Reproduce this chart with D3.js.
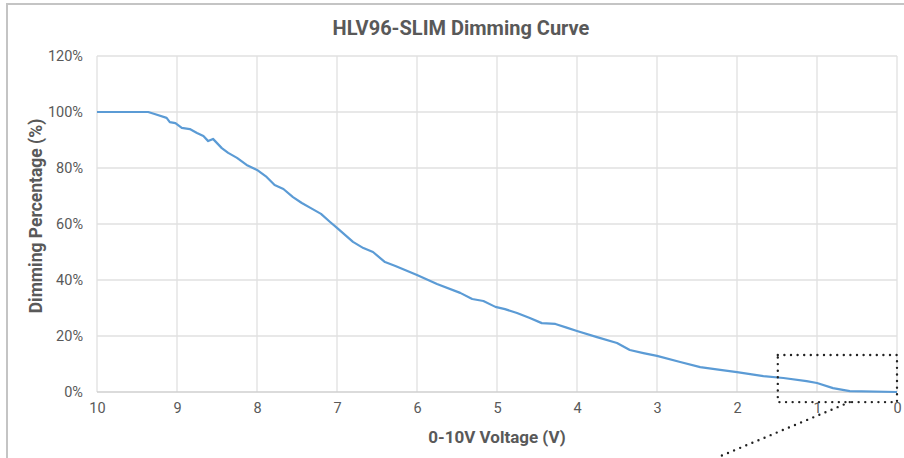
<!DOCTYPE html>
<html>
<head>
<meta charset="utf-8">
<script src="https://cdn.jsdelivr.net/npm/d3@7"></script>
<style>
  body { margin: 0; background: #fff; }
  text { font-family: Roboto, "Open Sans", sans-serif; }
</style>
</head>
<body>
<div id="chart"></div>
<script>
var svgWidth = 904;
var svgHeight = 458;

var margin = { top: 56, right: 7, bottom: 66, left: 97 };
var width = svgWidth - margin.left - margin.right;
var height = svgHeight - margin.top - margin.bottom;

// curve: control voltage (V) vs dimming (%)
var voltage = [10, 9.36, 9.28, 9.13, 9.09, 9.02, 8.94, 8.84, 8.75, 8.67, 8.61, 8.55, 8.44, 8.36, 8.25, 8.13, 8.0,
  7.88, 7.78, 7.67, 7.55, 7.44, 7.31, 7.2, 7.09, 7.0, 6.8, 6.67, 6.55, 6.4, 6.27, 6.0, 5.75, 5.46, 5.31, 5.17,
  5.02, 4.9, 4.75, 4.59, 4.44, 4.27, 4.12, 4.0, 3.75, 3.5, 3.34, 3.17, 3.0, 2.71, 2.46, 2.21, 2.0, 1.67, 1.42,
  1.13, 1.0, 0.8, 0.59, 0];
var percent = [100, 100, 99.3, 97.9, 96.4, 96, 94.3, 93.9, 92.5, 91.4, 89.6, 90.4, 87.1, 85.4, 83.6, 81.1, 79.3,
  76.8, 73.9, 72.5, 69.6, 67.5, 65.4, 63.6, 60.8, 58.6, 53.6, 51.4, 50, 46.4, 45, 41.8, 38.6, 35.4, 33.2, 32.5,
  30.4, 29.6, 28.2, 26.4, 24.6, 24.3, 22.9, 21.8, 19.6, 17.5, 15, 13.9, 12.9, 10.7, 8.9, 7.9, 7.1, 5.7, 5,
  3.9, 3.2, 1.4, 0.3, 0];
var xTicks = [10, 9, 8, 7, 6, 5, 4, 3, 2, 1, 0];
var yTicks = [0, 20, 40, 60, 80, 100, 120];

var svg = d3.select("#chart")
  .append("svg")
  .attr("width", svgWidth)
  .attr("height", svgHeight);

// outer frame (only top and left edges show in the crop)
svg.append("path")
  .attr("d", `M7,${svgHeight} V4 H${svgWidth}`)
  .attr("fill", "none")
  .attr("stroke", "#c4c4c4")
  .attr("stroke-width", 2);

var chartGroup = svg.append("g")
  .attr("transform", `translate(${margin.left}, ${margin.top})`);

var x = d3.scaleLinear().domain([10, 0]).range([0, width]);
var y = d3.scaleLinear().domain([0, 120]).range([height, 0]);

// gridlines
chartGroup.append("g")
  .selectAll("line")
  .data(xTicks)
  .enter()
  .append("line")
  .attr("x1", d => x(d)).attr("x2", d => x(d))
  .attr("y1", 0).attr("y2", height)
  .attr("stroke", "#e0e0e0")
  .attr("stroke-width", 1.3);

chartGroup.append("g")
  .selectAll("line")
  .data(yTicks)
  .enter()
  .append("line")
  .attr("x1", 0).attr("x2", width)
  .attr("y1", d => y(d)).attr("y2", d => y(d))
  .attr("stroke", d => d === 0 ? "#cfcfcf" : "#e0e0e0")
  .attr("stroke-width", 1.3);

// axes, labels only
var xAxis = d3.axisBottom(x).tickValues(xTicks).tickSize(0).tickPadding(11).tickFormat(d3.format("d"));
var yAxis = d3.axisLeft(y).tickValues(yTicks).tickSize(0).tickPadding(14).tickFormat(d => d + "%");

chartGroup.append("g")
  .attr("transform", `translate(0, ${height})`)
  .call(xAxis)
  .call(g => g.select(".domain").remove())
  .selectAll("text")
  .attr("fill", "#595959")
  .style("font-size", "14.5px");

chartGroup.append("g")
  .call(yAxis)
  .call(g => g.select(".domain").remove())
  .selectAll("text")
  .attr("fill", "#595959")
  .style("font-size", "14.5px");

// the curve
var points = voltage.map((v, i) => [v, percent[i]]);
var line = d3.line()
  .x(d => x(d[0]))
  .y(d => y(d[1]));

chartGroup.append("path")
  .datum(points)
  .attr("d", line)
  .attr("fill", "none")
  .attr("stroke", "#5b9bd5")
  .attr("stroke-width", 2.2)
  .attr("stroke-linejoin", "round");

// titles
svg.append("text")
  .attr("x", 461)
  .attr("y", 35)
  .attr("text-anchor", "middle")
  .attr("fill", "#595959")
  .style("font-size", "20px")
  .style("font-weight", "bold")
  .text("HLV96-SLIM Dimming Curve");

chartGroup.append("text")
  .attr("transform", "rotate(-90)")
  .attr("x", -height / 2 + 8)
  .attr("y", -55)
  .attr("text-anchor", "middle")
  .attr("fill", "#595959")
  .style("font-size", "17.5px")
  .style("font-weight", "bold")
  .text("Dimming Percentage (%)");

chartGroup.append("text")
  .attr("x", x(5))
  .attr("y", height + 51)
  .attr("text-anchor", "middle")
  .attr("fill", "#595959")
  .style("font-size", "17px")
  .style("font-weight", "bold")
  .text("0-10V Voltage (V)");

// dotted zoom box and leader
var dots = { fill: "none", stroke: "#222", "stroke-width": 2.4, "stroke-dasharray": "0,6.6", "stroke-linecap": "round" };
var box = chartGroup.append("rect")
  .attr("x", x(1.49)).attr("y", y(13.2))
  .attr("width", x(0) - x(1.49))
  .attr("height", y(-3.6) - y(13.2));
Object.entries(dots).forEach(([k, v]) => box.attr(k, v));

var leader = chartGroup.append("line")
  .attr("x1", x(0.59)).attr("y1", y(-3.6))
  .attr("x2", x(2.25)).attr("y2", y(-23.4));
Object.entries(dots).forEach(([k, v]) => leader.attr(k, v));
</script>
</body>
</html>
